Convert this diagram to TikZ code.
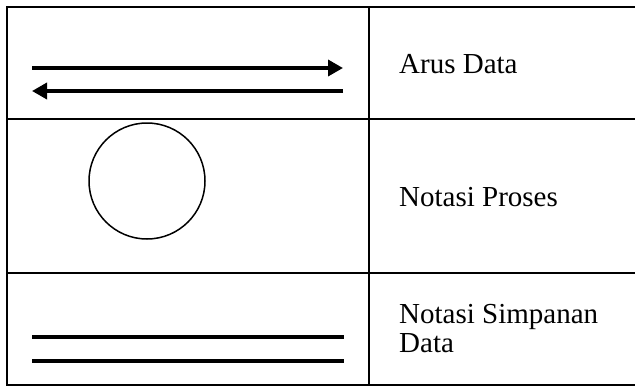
\documentclass[tikz,border=0pt]{standalone}
\usepackage{fontspec}
\setmainfont{Liberation Serif}
\usetikzlibrary{arrows.meta}

\begin{document}
\begin{tikzpicture}[x=1pt,y=-1pt,
  rule/.style={line width=2pt},
  flow/.style={line width=3.5pt,-{Triangle[length=15pt,width=16pt]}},
  store/.style={line width=3.5pt},
  notetext/.style={anchor=base west,inner sep=0pt,font=\fontsize{29}{33}\selectfont}]
\useasboundingbox (0,0) rectangle (635,386);
% table lines
\draw[rule] (635,7) -- (7,7) -- (7,385) -- (635,385);
\draw[rule] (7,119) -- (635,119);
\draw[rule] (7,273) -- (635,273);
\draw[rule] (369,7) -- (369,385);
% data flow
\draw[flow] (32,68) -- (343,68);
\draw[flow] (343,91) -- (32,91);
% process
\draw[line width=1.5pt] (147,181) circle (58);
% data store
\draw[store] (32,337) -- (344,337);
\draw[store] (32,361) -- (344,361);
% labels
\node[notetext] (arus) at (399,73) {Arus Data};
\node[notetext] (proses) at (399,206) {Notasi Proses};
\node[notetext] (simpan) at (399,323) {Notasi Simpanan};
\node[notetext] (data) at (399,352) {Data};
\end{tikzpicture}
\end{document}
